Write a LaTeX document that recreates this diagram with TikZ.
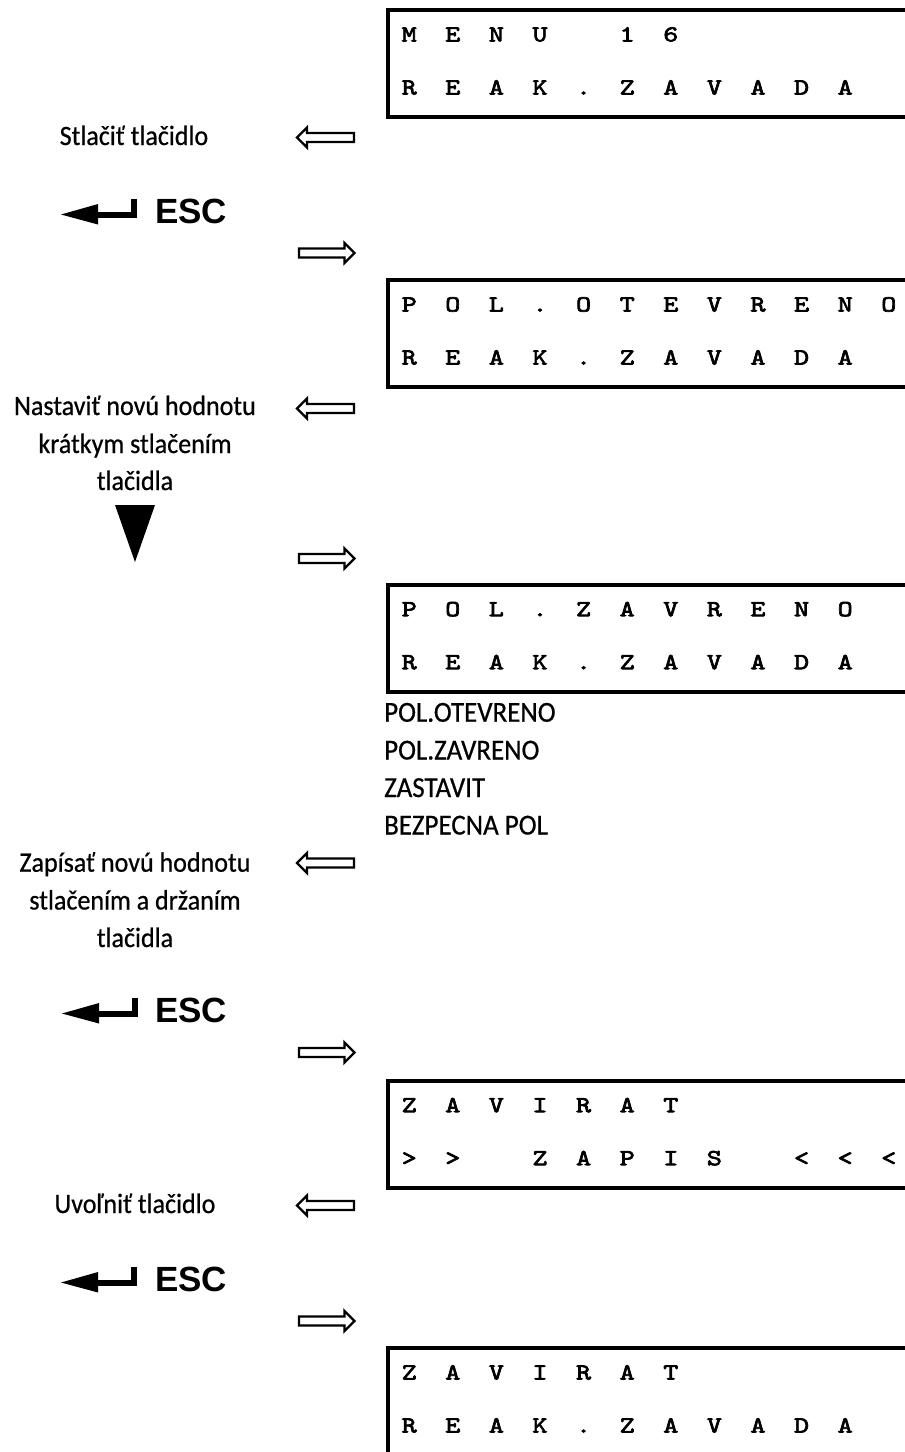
\documentclass[tikz,border=0pt]{standalone}
\usepackage{fontspec}
\newfontfamily\labfont{Carlito}[FakeStretch=0.93, FakeBold=0.6]
\newfontfamily\lcdfont{lmmono10-regular.otf}[FakeBold=3, FakeStretch=1.25]
\newfontfamily\escfont{Liberation Sans}
\def\lcdrow#1{\lcdloop#1\relax}
\def\lcdloop#1{\ifx#1\relax\else\makebox[43.6pt][c]{\ifx#1-\else#1\fi}\expandafter\lcdloop\fi}
\tikzset{
  lcdbox/.style={draw, line width=4.3pt, inner sep=0pt, outer sep=0pt, anchor=north west, minimum width=560pt, minimum height=106.7pt},
  lcdrow/.style={inner sep=0pt, anchor=base west, font=\lcdfont\fontsize{23}{23}\selectfont},
  lab/.style={inner sep=0pt, anchor=base, font=\labfont\fontsize{28}{30}\selectfont},
  lst/.style={inner sep=0pt, anchor=base west, font=\labfont\fontsize{29}{30}\selectfont},
  esctext/.style={inner sep=0pt, anchor=base west, font=\escfont\bfseries\fontsize{35}{35}\selectfont},
  hollow/.style={draw, line width=2.4pt, line join=miter, fill=white},
  larr/.pic={\draw[hollow] (-28.5,0) -- (-18.5,-10) -- (-18.5,-4.5) -- (28.5,-4.5) -- (28.5,4.5) -- (-18.5,4.5) -- (-18.5,10) -- cycle;},
  rarr/.pic={\draw[hollow] (28,0) -- (18,-10) -- (18,-4.5) -- (-27.5,-4.5) -- (-27.5,4.5) -- (18,4.5) -- (18,10) -- cycle;},
  retarr/.pic={\fill (0,0) -- (37,-10.5) -- (37,10) -- cycle;
               \fill (35,-3) rectangle (76,3);
               \fill (70,-16) rectangle (76,3);},
}
\begin{document}
\begin{tikzpicture}[x=1pt,y=-1pt]
\useasboundingbox (0,0) rectangle (905,1452);
\clip (0,0) rectangle (905,1452);
% LCD boxes
\node[lcdbox] (box1) at (388.3,10.3) {};
\node[lcdrow] (b1r1) at (387.2,41.5) {\lcdrow{MENU-16}};
\node[lcdrow] (b1r2) at (387.2,94.5) {\lcdrow{REAK.ZAVADA}};
\node[lcdbox] (box2) at (388.3,280.3) {};
\node[lcdrow] (b2r1) at (387.2,311.5) {\lcdrow{POL.OTEVRENO}};
\node[lcdrow] (b2r2) at (387.2,364.5) {\lcdrow{REAK.ZAVADA}};
\node[lcdbox] (box3) at (388.3,585) {};
\node[lcdrow] (b3r1) at (387.2,616.2) {\lcdrow{POL.ZAVRENO}};
\node[lcdrow] (b3r2) at (387.2,669.2) {\lcdrow{REAK.ZAVADA}};
\node[lcdbox] (box4) at (388.3,1081) {};
\node[lcdrow] (b4r1) at (387.2,1112.2) {\lcdrow{ZAVIRAT}};
\node[lcdrow] (b4r2) at (387.2,1165.2) {\lcdrow{>>-ZAPIS-<<<}};
\node[lcdbox] (box5) at (388.3,1348.3) {};
\node[lcdrow] (b5r1) at (387.2,1379.5) {\lcdrow{ZAVIRAT}};
\node[lcdrow] (b5r2) at (387.2,1432.5) {\lcdrow{REAK.ZAVADA}};
% hollow arrows
\pic at (325.5,137.5) {larr};
\pic at (326.5,253) {rarr};
\pic at (325.5,408.5) {larr};
\pic at (326.5,558.5) {rarr};
\pic at (325.5,863) {larr};
\pic at (326.5,1052.5) {rarr};
\pic at (325.5,1205.5) {larr};
\pic at (326.5,1321) {rarr};
% return arrows + ESC
\pic at (61,214.5) {retarr};
\node[esctext] (esc1) at (155,223) {ESC};
\pic at (62,1013.5) {retarr};
\node[esctext] (esc2) at (155,1022) {ESC};
\pic at (61,1282.5) {retarr};
\node[esctext] (esc3) at (155,1291) {ESC};
% down triangle
\fill (115,505) -- (155,505) -- (135,562) -- cycle;
% labels
\node[lab] (lab1) at (134,145) {Stlačiť tlačidlo};
\node[lab] (lab2a) at (135,415) {Nastaviť novú hodnotu};
\node[lab] (lab2b) at (135,453) {krátkym stlačením};
\node[lab] (lab2c) at (135,490) {tlačidla};
\node[lst] (ls1) at (384,721.7) {POL.OTEVRENO};
\node[lst] (ls2) at (384,759.5) {POL.ZAVRENO};
\node[lst] (ls3) at (384,797) {ZASTAVIT};
\node[lst] (ls4) at (384,834.5) {BEZPECNA POL};
\node[lab] (lab3a) at (135,871.7) {Zapísať novú hodnotu};
\node[lab] (lab3b) at (135,909.5) {stlačením a držaním};
\node[lab] (lab3c) at (135,947) {tlačidla};
\node[lab] (lab4) at (135,1213) {Uvoľniť tlačidlo};
\end{tikzpicture}
\end{document}
